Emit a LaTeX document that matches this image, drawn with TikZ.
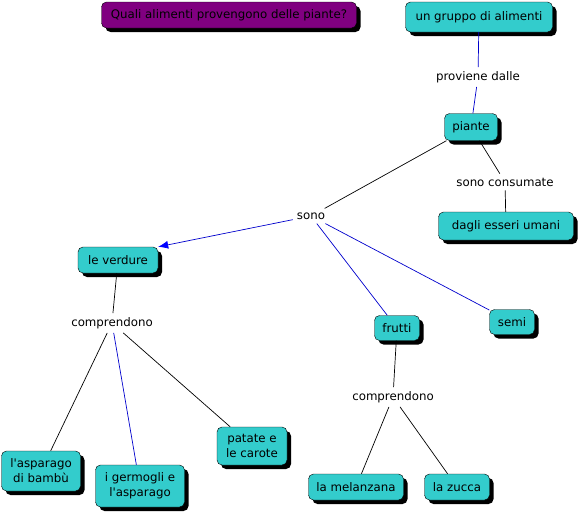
\documentclass[tikz,border=0pt]{standalone}
\usepackage{fontspec}
\setmainfont{DejaVu Sans}[Ligatures=TeXOff]
\usetikzlibrary{shadows,arrows.meta}
\definecolor{boxteal}{HTML}{33CCCC}
\definecolor{boxpurple}{HTML}{800080}
\tikzset{
	concept/.style={draw=black, fill=boxteal, rounded corners=5pt, align=center,
		font=\fontsize{11.8}{15}\selectfont, inner sep=2pt,
		drop shadow={shadow xshift=4pt, shadow yshift=-4pt, fill=black, opacity=1}},
	question/.style={concept, fill=boxpurple},
	linkword/.style={font=\fontsize{11.8}{15}\selectfont, inner sep=4pt},
	blueline/.style={draw=blue!80!black, line width=0.7pt},
	blackline/.style={draw=black, line width=0.7pt}
}
\begin{document}
\begin{tikzpicture}[x=1pt, y=-1pt]
	\useasboundingbox (0,0) rectangle (581,514);
	\node[question, minimum width=255pt, minimum height=26pt] (domanda) at (229,15) {Quali alimenti provengono delle piante?};
	\node[concept, minimum width=147pt, minimum height=30pt] (gruppo) at (479,17) {un gruppo di alimenti};
	\node[linkword] (proviene) at (478,77) {proviene dalle};
	\node[concept, minimum width=53pt, minimum height=27pt] (piante) at (471,127) {piante};
	\node[linkword] (consumate) at (505,182) {sono consumate};
	\node[concept, minimum width=135pt, minimum height=28pt] (umani) at (506,226) {dagli esseri umani};
	\node[linkword] (sono) at (311,216) {sono};
	\node[concept, minimum width=80pt, minimum height=26pt] (verdure) at (118,260) {le verdure};
	\node[concept, minimum width=45pt, minimum height=25pt] (frutti) at (397,328) {frutti};
	\node[concept, minimum width=45pt, minimum height=25pt] (semi) at (512,322) {semi};
	\node[linkword] (compV) at (112,323) {comprendono};
	\node[linkword] (compF) at (393,397) {comprendono};
	\node[concept, minimum width=79pt, minimum height=40pt] (bambu) at (41,471) {l'asparago\\di bambù};
	\node[concept, minimum width=89pt, minimum height=42pt] (germogli) at (140,486) {i germogli e\\l'asparago};
	\node[concept, minimum width=70pt, minimum height=38pt] (patate) at (252,446) {patate e\\le carote};
	\node[concept, minimum width=95pt, minimum height=26pt] (melanzana) at (356,487) {la melanzana};
	\node[concept, minimum width=65pt, minimum height=26pt] (zucca) at (457,487) {la zucca};
	
	\path [-, blueline] (gruppo) edge (proviene);
	\path [-, blueline] (proviene) edge (piante);
	\path [-, blackline] (piante) edge (sono);
	\path [-, blackline] (piante) edge (consumate);
	\path [-, blackline] (consumate) edge (umani);
	\path [-{Latex[length=10pt,width=8pt,fill=blue,color=blue]}, blueline] (sono) edge (verdure.north east);
	\path [-, blueline] (sono) edge (frutti);
	\path [-, blueline] (sono) edge (semi);
	\path [-, blackline] (verdure) edge (compV);
	\path [-, blackline] (compV) edge (bambu);
	\path [-, blueline] (compV) edge (germogli);
	\path [-, blackline] (compV) edge (patate);
	\path [-, blackline] (frutti) edge (compF);
	\path [-, blackline] (compF) edge (melanzana);
	\path [-, blackline] (compF) edge (zucca);
\end{tikzpicture}
\end{document}
